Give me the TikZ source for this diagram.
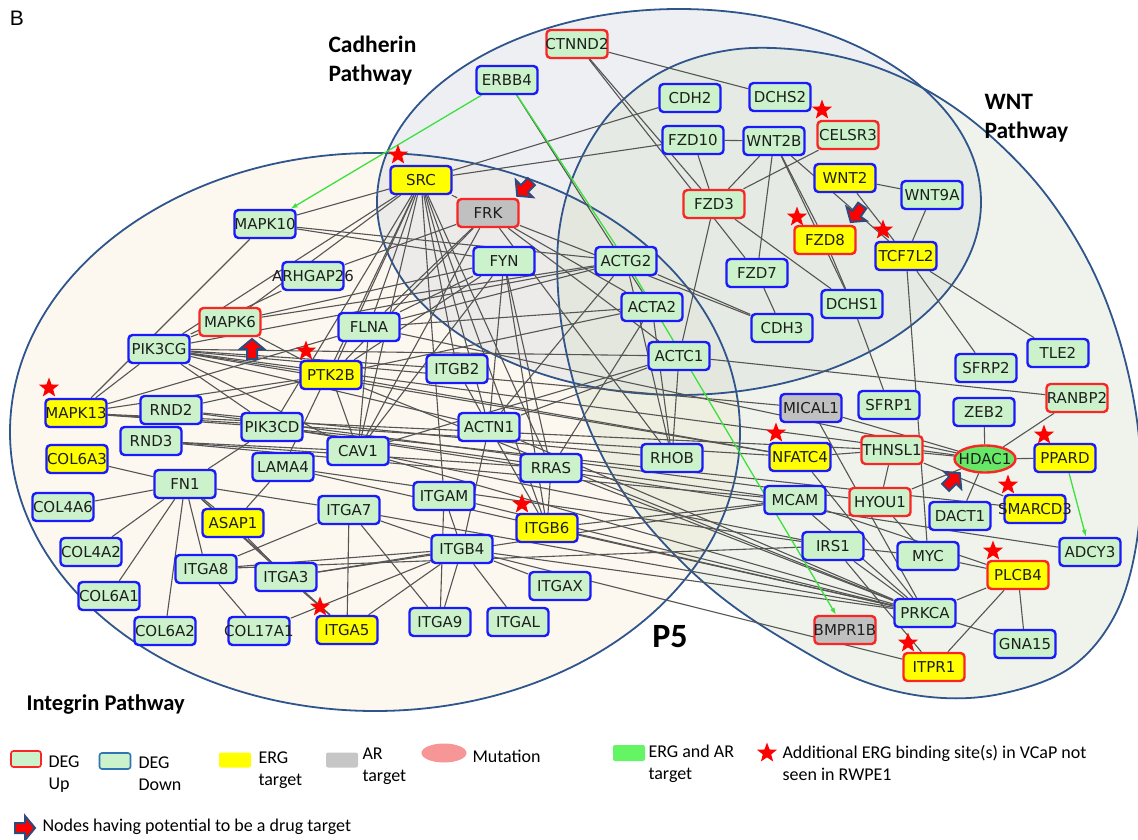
\documentclass[tikz,border=0pt]{standalone}
\usepackage{fontspec}
\setmainfont{Carlito}
\newfontfamily\nodefont{DejaVu Sans}
\newfontfamily\arialfont{Liberation Sans}
\usetikzlibrary{shapes.geometric,arrows.meta}
\pgfdeclarelayer{bg}
\pgfdeclarelayer{edges}
\pgfsetlayers{bg,edges,main}
\definecolor{ndgreen}{RGB}{204,242,204}
\definecolor{ndblue}{RGB}{26,26,250}
\definecolor{ndred}{RGB}{250,38,38}
\definecolor{ergy}{RGB}{255,255,0}
\definecolor{argray}{RGB}{192,192,192}
\definecolor{hdacg}{RGB}{102,232,102}
\definecolor{txtc}{RGB}{30,30,30}
\definecolor{edgec}{RGB}{85,85,85}
\definecolor{grn}{RGB}{60,225,60}
\definecolor{pwc}{RGB}{47,85,140}
\definecolor{navyc}{RGB}{47,75,125}
\definecolor{fI}{RGB}{247,236,214}
\definecolor{fC}{RGB}{218,220,228}
\definecolor{fW}{RGB}{218,226,206}
\definecolor{lgblue}{RGB}{46,117,182}
\definecolor{mutpink}{RGB}{246,150,150}
\definecolor{lggreen}{RGB}{100,245,100}
\newcommand\tx[1]{\makebox[0pt]{#1}}
\begin{document}
\begin{tikzpicture}[x=1pt,y=-1pt,
  nd/.style={rectangle, rounded corners=4pt, minimum width=61pt, minimum height=28pt, inner sep=0pt, line width=2.4pt, fill=ndgreen, font=\nodefont\fontsize{15}{18}\selectfont, text=txtc},
  up/.style={nd, draw=ndred},
  dn/.style={nd, draw=ndblue},
  erg/.style={fill=ergy},
  arg/.style={fill=argray},
  ed/.style={draw=edgec, line width=1.1pt},
  gr/.style={draw=grn, line width=1.3pt},
  rstar/.style={star, star points=5, star point ratio=2.4, fill=red, draw=none, inner sep=0pt, minimum size=21pt},
  pw/.style={draw=pwc, line width=1.8pt},
  ttl/.style={font=\bfseries\fontsize{23.5}{29}\selectfont, align=left, anchor=west},
  lg/.style={font=\fontsize{18}{22}\selectfont, align=left, anchor=west},
  drug/.pic={\draw[line width=2pt, draw=navyc, fill=red, line join=miter] (-9,-5) -- (1,-5) -- (1,-12) -- (11,0) -- (1,12) -- (1,5) -- (-9,5) -- cycle;}
]
\useasboundingbox (0,0) rectangle (1138,840);

\def\wntpath{plot[smooth cycle, tension=0.6] coordinates {(665,70) (730,50) (800,50) (870,65) (935,95) (995,140) (1050,200) (1095,275) (1125,360) (1140,450) (1137,540) (1115,615) (1070,668) (1000,694) (930,697) (860,680) (790,643) (725,600) (670,550) (625,495) (590,430) (568,360) (558,290) (560,225) (578,165) (613,110)}}
\begin{pgfonlayer}{bg}
  \fill[fI, opacity=0.4] (375,432) ellipse [x radius=365, y radius=279];
  \fill[fC, opacity=0.45] (679,202) ellipse [x radius=302, y radius=193];
  \fill[fW, opacity=0.4] \wntpath;
  \draw[pw] (375,432) ellipse [x radius=365, y radius=279];
  \draw[pw] (679,202) ellipse [x radius=302, y radius=193];
  \draw[pw] \wntpath;
\end{pgfonlayer}

% labels
\node[font=\arialfont\fontsize{21}{24}\selectfont] (lblB) at (17,18) {B};
\node[ttl] (lblCad) at (325,61) {Cadherin\\Pathway};
\node[ttl] (lblWnt) at (981,118) {WNT\\Pathway};
\node[ttl, font=\bfseries\fontsize{22.5}{27}\selectfont] (lblInt) at (23,705) {Integrin Pathway};
\node[font=\bfseries\fontsize{34}{40}\selectfont] (lblP5) at (670,637) {P5};

% down-regulated (blue)
\foreach \n/\x/\y in {ERBB4/507/80, CDH2/690/98, DCHS2/780/97, FZD10/693/140, WNT2B/774/141, WNT9A/932/195, MAPK10/265/224, ARHGAP26/313/276, FYN/504/261, ACTG2/626/261, FZD7/757/273, DCHS1/852/304, ACTA2/652/307, FLNA/369/327, CDH3/782/328, PIK3CG/159/349, ACTC1/679/356, TLE2/1058/353, SFRP2/986/368, ITGB2/457/369, RND2/171/410, SFRP1/889/405, ZEB2/984/412, RND3/151/441, PIK3CD/272/427, ACTN1/489/427, CAV1/358/451, RHOB/672/458, RRAS/551/468, LAMA4/283/467, FN1/185/484, COL4A6/63/507, ITGAM/444/496, MCAM/795/500, DACT1/960/516, ITGA7/349/510, ITGB4/462/549, IRS1/833/546, MYC/928/556, ADCY3/1090/552, COL4A2/91/552, ITGA8/206/569, ITGA3/286/577, ITGAX/560/586, COL6A1/109/596, COL6A2/165/631, COL17A1/259/631, ITGA9/440/622, ITGAL/518/622, PRKCA/925/613, GNA15/1025/644}
  \node[dn] (\n) at (\x,\y) {\tx{\n}};
% down + ERG target
\foreach \n/\x/\y in {SRC/421/180, WNT2/845/178, TCF7L2/906/256, PTK2B/331/375, MAPK13/76/413, COL6A3/77/459, NFATC4/800/457, PPARD/1065/458, ASAP1/233/523, ITGB6/547/528, SMARCD3/1035/509, ITGA5/347/630}
  \node[dn,erg] (\n) at (\x,\y) {\tx{\n}};
\node[dn,arg] (MICAL1) at (811,408) {\tx{MICAL1}};
% up-regulated (red)
\foreach \n/\x/\y in {CTNND2/577/44, CELSR3/848/135, FZD3/714/204, MAPK6/230/322, RANBP2/1077/398, THNSL1/892/450, HYOU1/880/502}
  \node[up] (\n) at (\x,\y) {\tx{\n}};
\foreach \n/\x/\y in {FZD8/825/240, PLCB4/1018/575, ITPR1/934/667}
  \node[up,erg] (\n) at (\x,\y) {\tx{\n}};
\foreach \n/\x/\y in {FRK/488/213, BMPR1B/845/630}
  \node[up,arg] (\n) at (\x,\y) {\tx{\n}};
\node[ellipse, draw=ndred, fill=hdacg, line width=2.4pt, minimum width=61pt, minimum height=27pt, inner sep=0pt, font=\nodefont\fontsize{15}{18}\selectfont, text=txtc] (HDAC1) at (985,459) {\tx{HDAC1}};

% stars
\foreach \i/\x/\y in {1/398/155, 2/822/110, 3/797/217, 4/883/230, 5/49/388, 6/306/351, 7/522/504, 8/776/433, 9/1044/435, 10/1008/485, 11/993/551, 12/320/607, 13/908/643}
  \node[rstar] (star\i) at (\x,\y) {};

% drug target arrows
\pic[rotate=-135] at (525,188) {drug};
\pic[rotate=90] at (252,350) {drug};
\pic[rotate=-125] at (857,213) {drug};
\pic[rotate=45] at (952,481) {drug};

\begin{pgfonlayer}{edges}
\foreach \a/\b in {CTNND2/DCHS2, CTNND2/FZD3, CTNND2/FZD7, ERBB4/ACTA2, SRC/CDH2, SRC/FZD10, FZD10/WNT2B, FZD10/FZD3, WNT2B/FZD3, CELSR3/FZD3, WNT2B/FZD7, WNT2B/FZD8, WNT2B/DCHS1, WNT2B/TCF7L2, WNT2/WNT9A, WNT2/TCF7L2, WNT9A/TCF7L2, FZD3/DCHS1, FZD3/ACTC1, FZD7/CDH3, TCF7L2/SFRP2, TCF7L2/TLE2, TCF7L2/MYC, DCHS1/SFRP1, FZD8/DCHS1, ACTC1/RANBP2, ACTG2/CDH3, FRK/CDH3,
NFATC4/THNSL1, THNSL1/HDAC1, THNSL1/HYOU1, HYOU1/HDAC1, ZEB2/HDAC1, RANBP2/HDAC1, HDAC1/PPARD, HDAC1/DACT1, MICAL1/HDAC1, THNSL1/SMARCD3, HYOU1/MYC, MYC/PLCB4, MCAM/PLCB4, IRS1/MYC, PRKCA/PLCB4, PRKCA/GNA15, PLCB4/GNA15, PLCB4/ITPR1, IRS1/ITPR1, MCAM/PRKCA, IRS1/PRKCA, NFATC4/PRKCA, MICAL1/PRKCA,
PIK3CG/HDAC1, PIK3CG/NFATC4, PIK3CG/MICAL1, MAPK13/THNSL1, MAPK13/NFATC4, PIK3CD/SMARCD3, PIK3CD/ADCY3, PIK3CD/MCAM, CAV1/PRKCA, CAV1/IRS1, LAMA4/PRKCA, RND3/MCAM, RND2/HYOU1, ITGB4/PRKCA, ITGB6/PRKCA, ITGB6/MCAM, ITGAM/PRKCA, ACTN1/PRKCA, RRAS/PRKCA, ITGA7/PRKCA, ITGA8/IRS1, ITGA3/MCAM, FLNA/HDAC1, PTK2B/NFATC4, PTK2B/PRKCA, LAMA4/IRS1, ITGB4/ITPR1,
SRC/MAPK10, MAPK10/MAPK13, MAPK10/FYN, MAPK10/ACTG2, ARHGAP26/FRK, ARHGAP26/PIK3CG, MAPK6/PIK3CG, MAPK6/PTK2B, MAPK6/FYN, MAPK6/ACTG2, MAPK13/PIK3CG, MAPK13/FLNA, MAPK13/PTK2B, MAPK13/PIK3CD, PIK3CG/PIK3CD, PIK3CG/PTK2B, PIK3CG/ITGB2, PIK3CG/ACTN1, PIK3CG/CAV1, RND2/PTK2B, RND2/RHOB, RND3/RRAS, RND3/CAV1,
COL6A3/FN1, COL4A6/FN1, COL4A2/FN1, COL6A1/FN1, COL6A2/FN1, FN1/ITGA8, FN1/ITGA3, FN1/ITGA5, FN1/ITGA7, FN1/PIK3CD, FN1/ASAP1, ASAP1/ITGA3, ASAP1/LAMA4, ITGA8/COL17A1, ITGA8/ITGA7, ITGA8/ITGB4, ITGA3/ITGB4, ITGA3/ITGA5, COL17A1/ITGB4, ITGA5/ITGA7, ITGA5/ITGB4, ITGA7/ITGB4, ITGB4/ITGA9, ITGB4/ITGAL, ITGB4/ITGAX, ITGB4/ITGAM, ITGB4/ACTN1, ITGA9/ITGA7, ITGB2/ACTN1, RRAS/ITGB6, ACTN1/ITGB6, ITGAM/ITGA9,
SRC/PIK3CG, SRC/MAPK6, SRC/FLNA, SRC/PTK2B, SRC/CAV1, SRC/PIK3CD, SRC/ITGB2, SRC/ACTN1, SRC/RRAS, SRC/ITGB6, SRC/ITGAM, SRC/LAMA4, SRC/FRK,
FRK/ACTA2, FRK/ACTC1, FRK/RHOB, FRK/FLNA, FRK/PTK2B, FRK/CAV1,
FYN/PTK2B, FYN/FLNA, FYN/ACTN1, FYN/CAV1, FYN/ITGB6, FYN/RRAS,
ACTG2/FLNA, ACTG2/ACTN1, ACTG2/PIK3CG, ACTG2/RHOB,
ACTA2/RHOB, ACTA2/RRAS, ACTA2/FLNA, ACTA2/PTK2B,
ACTC1/RHOB, ACTC1/ACTN1, ACTC1/PIK3CG, ACTC1/CAV1,
FLNA/CAV1, PTK2B/CAV1}
  \draw[ed] (\a) -- (\b);
\draw[gr, -{Latex[length=7pt,width=5pt]}] (ERBB4) -- (MAPK10);
\draw[gr] (ERBB4) -- (ACTG2);
\draw[gr, -{Latex[length=7pt,width=5pt]}] (ACTG2) -- (BMPR1B);
\draw[gr, -{Latex[length=7pt,width=5pt]}] (PPARD) -- (ADCY3);
\end{pgfonlayer}

% legend
\node[rectangle, rounded corners=2.5pt, draw=ndred, line width=1.6pt, fill=ndgreen, minimum width=30pt, minimum height=16pt, inner sep=0pt] (lgUp) at (26,759) {};
\node[lg] (lgUpT) at (45,774) {DEG\\Up};
\node[rectangle, rounded corners=2.5pt, draw=lgblue, line width=1.6pt, fill=ndgreen, minimum width=31pt, minimum height=16pt, inner sep=0pt] (lgDn) at (115,761) {};
\node[lg] (lgDnT) at (135,774) {DEG\\Down};
\node[rectangle, rounded corners=2pt, fill=ergy, minimum width=32pt, minimum height=15pt, inner sep=0pt] (lgErg) at (235,760) {};
\node[lg] (lgErgT) at (255,770) {ERG\\target};
\node[rectangle, rounded corners=2pt, fill=argray!90, minimum width=32pt, minimum height=15pt, inner sep=0pt] (lgAr) at (342,760) {};
\node[lg] (lgArT) at (359,766) {AR\\target};
\node[ellipse, fill=mutpink, minimum width=45pt, minimum height=19pt, inner sep=0pt] (lgMut) at (444,753) {};
\node[lg] (lgMutT) at (469,756) {Mutation};
\node[rectangle, rounded corners=2pt, fill=lggreen, minimum width=32pt, minimum height=16pt, inner sep=0pt] (lgBoth) at (629,753) {};
\node[lg] (lgBothT) at (645,764) {ERG and AR\\target};
\node[rstar] (lgStar) at (767,753) {};
\node[lg] (lgStarT) at (779,763) {Additional ERG binding site(s) in VCaP not\\seen in RWPE1};
\pic at (24,828) {drug};
\node[lg] (lgDrugT) at (39,827) {Nodes having potential to be a drug target};
\end{tikzpicture}
\end{document}
